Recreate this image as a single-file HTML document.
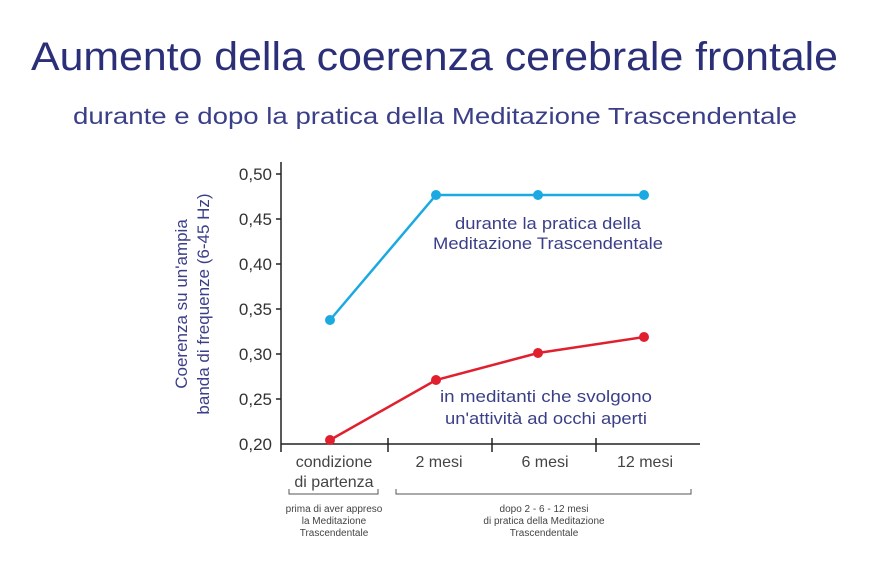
<!DOCTYPE html>
<html><head><meta charset="utf-8"><style>
body{margin:0;background:#fff;width:869px;height:558px;overflow:hidden;font-family:"Liberation Sans",sans-serif}
</style></head><body>
<svg width="869" height="558" viewBox="0 0 869 558" xmlns="http://www.w3.org/2000/svg" font-family="Liberation Sans, sans-serif">
<text x="31" y="70" font-size="40" fill="#2b2f78" textLength="807" lengthAdjust="spacingAndGlyphs">Aumento della coerenza cerebrale frontale</text>
<text x="73" y="124" font-size="23" fill="#3b3f88" textLength="724" lengthAdjust="spacingAndGlyphs">durante e dopo la pratica della Meditazione Trascendentale</text>
<g stroke="#222" stroke-width="1.5" fill="none">
<line x1="281" y1="162" x2="281" y2="452"/>
<line x1="281" y1="444" x2="700" y2="444"/>
<line x1="388" y1="438" x2="388" y2="452"/>
<line x1="492" y1="438" x2="492" y2="452"/>
<line x1="596" y1="438" x2="596" y2="452"/>
<line x1="276" y1="174" x2="281" y2="174"/>
<line x1="276" y1="219" x2="281" y2="219"/>
<line x1="276" y1="264" x2="281" y2="264"/>
<line x1="276" y1="309" x2="281" y2="309"/>
<line x1="276" y1="354" x2="281" y2="354"/>
<line x1="276" y1="399" x2="281" y2="399"/>
</g>
<g font-size="17" fill="#333" text-anchor="end">
<text x="272" y="180">0,50</text><text x="272" y="225">0,45</text><text x="272" y="270">0,40</text>
<text x="272" y="315">0,35</text><text x="272" y="360">0,30</text><text x="272" y="405">0,25</text><text x="272" y="450">0,20</text>
</g>
<g font-size="17" fill="#3b3f88" text-anchor="middle" transform="rotate(-90)">
<text x="-304" y="187">Coerenza su un'ampia</text>
<text x="-304" y="209">banda di frequenze (6-45 Hz)</text>
</g>
<polyline points="330,320 436,195 538,195 644,195" fill="none" stroke="#1ba9e1" stroke-width="2.5"/>
<g fill="#1ba9e1"><circle cx="330" cy="320" r="5"/><circle cx="436" cy="195" r="5"/><circle cx="538" cy="195" r="5"/><circle cx="644" cy="195" r="5"/></g>
<polyline points="330,440 436,380 538,353 644,337" fill="none" stroke="#e0202e" stroke-width="2.5"/>
<g fill="#e0202e"><circle cx="330" cy="440" r="5"/><circle cx="436" cy="380" r="5"/><circle cx="538" cy="353" r="5"/><circle cx="644" cy="337" r="5"/></g>
<g font-size="17" fill="#3b3f88">
<text x="455" y="229" textLength="186" lengthAdjust="spacingAndGlyphs">durante la pratica della</text>
<text x="433" y="249" textLength="230" lengthAdjust="spacingAndGlyphs">Meditazione Trascendentale</text>
<text x="440" y="402" textLength="212" lengthAdjust="spacingAndGlyphs">in meditanti che svolgono</text>
<text x="445" y="424" textLength="202" lengthAdjust="spacingAndGlyphs">un'attività ad occhi aperti</text>
</g>
<g font-size="16" fill="#444" text-anchor="middle">
<text x="334" y="467">condizione</text>
<text x="334" y="487">di partenza</text>
<text x="439" y="467">2 mesi</text>
<text x="545" y="467">6 mesi</text>
<text x="645" y="467">12 mesi</text>
</g>
<g stroke="#555" stroke-width="1" fill="none">
<polyline points="289,489 289,494 378,494 378,489"/>
<polyline points="396,489 396,494 691,494 691,489"/>
</g>
<g font-size="10" fill="#444" text-anchor="middle">
<text x="334" y="512">prima di aver appreso</text>
<text x="334" y="524">la Meditazione</text>
<text x="334" y="536">Trascendentale</text>
<text x="544" y="512">dopo 2 - 6 - 12 mesi</text>
<text x="544" y="524">di pratica della Meditazione</text>
<text x="544" y="536">Trascendentale</text>
</g>
</svg>
</body></html>
